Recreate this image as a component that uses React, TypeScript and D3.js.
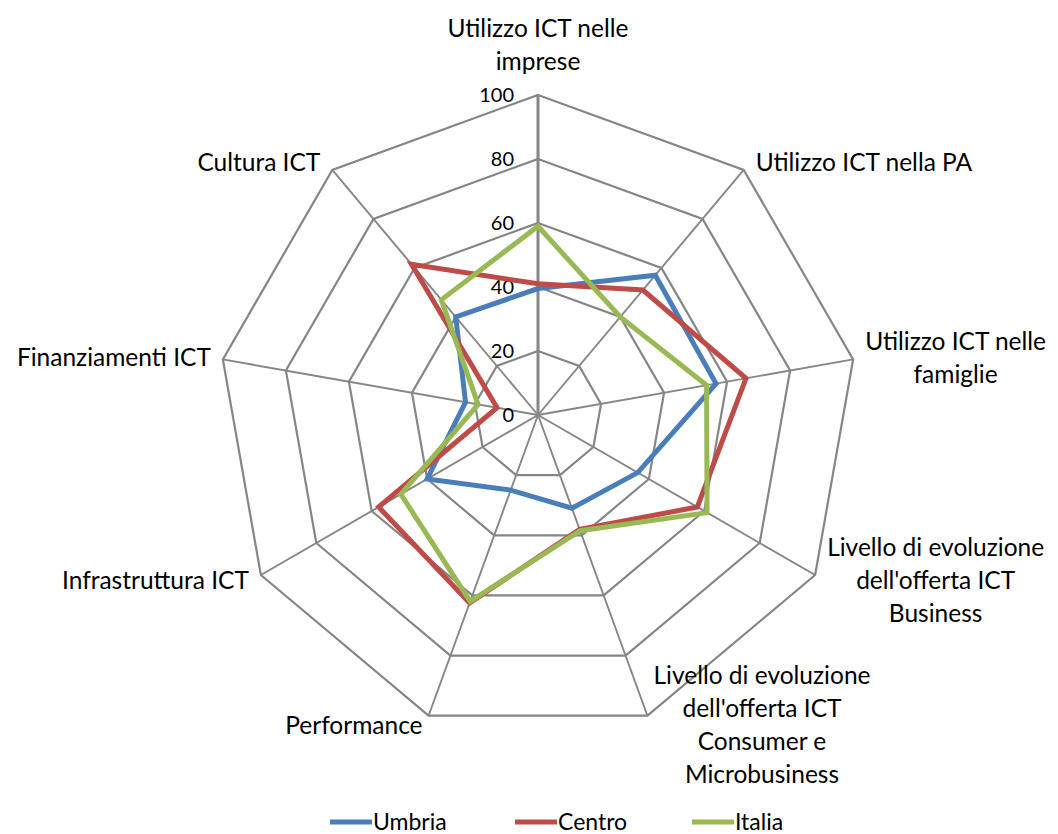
import { useEffect, useRef } from 'react'
import * as d3 from 'd3'

const categories: string[][] = [
  ['Utilizzo ICT nelle', 'imprese'],
  ['Utilizzo ICT nella PA'],
  ['Utilizzo ICT nelle', 'famiglie'],
  ['Livello di evoluzione', "dell'offerta ICT", 'Business'],
  ['Livello di evoluzione', "dell'offerta ICT", 'Consumer e', 'Microbusiness'],
  ['Performance'],
  ['Infrastruttura ICT'],
  ['Finanziamenti ICT'],
  ['Cultura ICT'],
]

const umbria = [39.5, 57, 56.5, 36, 31, 25, 40, 23, 40]
const centro = [41, 51, 66, 57.5, 38, 62.5, 57.5, 13, 61.5]
const italia = [59, 40, 53.5, 61, 38.5, 62, 49.5, 19, 47]

const seriesNames = ['Umbria', 'Centro', 'Italia']
const seriesColors = ['#4A7EBB', '#BE4B48', '#98B954']
const ticks = [0, 20, 40, 60, 80, 100]

const W = 1058
const H = 834
const FONT = "Lato, 'Open Sans', sans-serif"

export default function App() {
  const svgRef = useRef<SVGSVGElement>(null)

  useEffect(() => {
    document.body.style.margin = '0'
    if (!svgRef.current) return
    const svg = d3.select(svgRef.current)
    svg.selectAll('*').remove()

    const cx = 538
    const cy = 415
    const R = 320
    const n = categories.length
    const r = d3.scaleLinear().domain([0, 100]).range([0, R])
    const ang = (i: number) => (i * 2 * Math.PI) / n
    const pt = (i: number, v: number): [number, number] => [
      cx + r(v) * Math.sin(ang(i)),
      cy - r(v) * Math.cos(ang(i)),
    ]

    const ring = d3.line<[number, number]>().curve(d3.curveLinearClosed)

    // grid rings
    ticks.slice(1).forEach(t => {
      svg.append('path')
        .attr('d', ring(d3.range(n).map(i => pt(i, t))))
        .attr('fill', 'none')
        .attr('stroke', '#868686')
        .attr('stroke-width', 2.2)
    })

    // spokes
    d3.range(n).forEach(i => {
      const [x, y] = pt(i, 100)
      svg.append('line')
        .attr('x1', cx).attr('y1', cy)
        .attr('x2', x).attr('y2', y)
        .attr('stroke', '#868686')
        .attr('stroke-width', i === 0 ? 3 : 1.9)
    })

    // tick labels
    ticks.forEach(t => {
      svg.append('text')
        .attr('x', cx - 24)
        .attr('y', cy - r(t))
        .attr('dy', '0.35em')
        .attr('text-anchor', 'end')
        .style('font-family', FONT)
        .style('font-size', '20px')
        .attr('fill', '#000')
        .text(t)
    })

    // series
    const allSeries = [umbria, centro, italia]
    allSeries.forEach((s, k) => {
      svg.append('path')
        .attr('d', ring(s.map((v, i) => pt(i, v))))
        .attr('fill', 'none')
        .attr('stroke', seriesColors[k])
        .attr('stroke-width', 5)
        .attr('stroke-linejoin', 'miter')
    })

    // category labels
    const lh = 33
    categories.forEach((lines, i) => {
      const a = ang(i)
      const [ex, ey] = pt(i, 100)
      const g = svg.append('g')
      const texts = lines.map(l =>
        g.append('text')
          .style('font-family', FONT)
          .style('font-size', '24.5px')
          .attr('fill', '#000')
          .attr('text-anchor', 'middle')
          .attr('dy', '0.35em')
          .text(l)
      )
      const widths = texts.map(t => (t.node() as SVGTextElement).getComputedTextLength())
      const bw = d3.max(widths) || 0
      const bh = lines.length * lh
      const s = Math.sin(a)
      const c = Math.cos(a)
      let bx: number
      let byc: number
      if (Math.abs(s) < 0.1) {
        bx = ex
        byc = ey - 17 - bh / 2
      } else {
        const pad = Math.abs(s) > 0.5 ? 12 : 6
        bx = s > 0 ? ex + pad + bw / 2 : ex - pad - bw / 2
        byc = ey - c * 10
      }
      texts.forEach((t, j) => {
        t.attr('x', bx).attr('y', byc - bh / 2 + lh / 2 + j * lh)
      })
    })

    // legend
    const ly = 822
    const legendX = [330, 515, 692]
    seriesNames.forEach((name, k) => {
      svg.append('line')
        .attr('x1', legendX[k]).attr('x2', legendX[k] + 42)
        .attr('y1', ly).attr('y2', ly)
        .attr('stroke', seriesColors[k])
        .attr('stroke-width', 5)
      svg.append('text')
        .attr('x', legendX[k] + 43)
        .attr('y', ly)
        .attr('dy', '0.35em')
        .style('font-family', FONT)
        .style('font-size', '23px')
        .attr('fill', '#000')
        .text(name)
    })
  }, [])

  return <svg ref={svgRef} width={W} height={H} style={{ display: 'block', background: '#fff' }} />
}
